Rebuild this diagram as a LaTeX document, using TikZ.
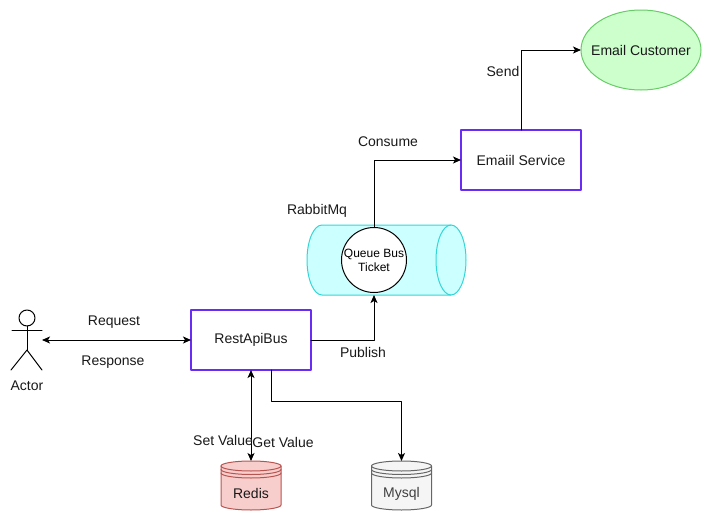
\documentclass[tikz,border=0pt]{standalone}
\usepackage{fontspec}
\setmainfont{Liberation Sans}
\usetikzlibrary{arrows.meta,calc,positioning,shapes.geometric}
\definecolor{boxline}{HTML}{6A2CF5}
\definecolor{queuefill}{HTML}{CCFFFF}
\definecolor{queueline}{HTML}{33D6D6}
\definecolor{customerfill}{HTML}{CCFFCC}
\definecolor{customerline}{HTML}{66CC66}
\definecolor{redisfill}{HTML}{F8CECC}
\definecolor{redisline}{HTML}{B85450}
\definecolor{mysqlfill}{HTML}{F5F5F5}
\definecolor{mysqlline}{HTML}{666666}
\tikzset{
	servicebox/.style={draw=boxline,line width=2pt,fill=white,minimum width=120pt,minimum height=60pt,inner sep=0pt,outer sep=0pt,text=black!90},
	storebox/.style={minimum width=60pt,minimum height=49pt,inner sep=0pt,outer sep=0pt},
	label/.style={text=black!90},
	link/.style={-{Stealth[length=8pt,width=7pt,inset=2pt]},line width=1pt},
	duplex/.style={{Stealth[length=8pt,width=7pt,inset=2pt]}-{Stealth[length=8pt,width=7pt,inset=2pt]},line width=1pt}
}
\begin{document}
\begin{tikzpicture}[line cap=round,line join=round,x=1pt,y=-1pt,every node/.style={font=\fontsize{14}{16}\selectfont}]
\useasboundingbox (0,0) rectangle (713,522);

\node[servicebox] (rest) at (251,340) {\raisebox{-1.5pt}{RestApiBus}};
\node[servicebox] (emailsvc) at (521,160) {Emaiil Service};
\node[ellipse,draw=customerline,fill=customerfill,line width=1pt,minimum width=120pt,minimum height=80pt,inner sep=0pt,outer sep=0pt] (customer) at (641,50) {};
\node[minimum width=159pt,minimum height=70pt,inner sep=0pt,outer sep=0pt] (queue) at (386.5,260) {};
\node[storebox] (redis) at (251,485.5) {};
\node[storebox] (mysql) at (401.5,485.5) {};

% queue body and its end
\draw[draw=queueline,fill=queuefill,line width=1pt] ($(queue)+(-64.5,-35)$) -- ($(queue)+(64.5,-35)$)
	arc[start angle=90,end angle=-90,x radius=15pt,y radius=35pt] -- ($(queue)+(-64.5,35)$)
	arc[start angle=270,end angle=90,x radius=15pt,y radius=35pt] -- cycle;
\draw[draw=queueline,line width=1pt] ($(queue)+(64.5,-35)$) arc[start angle=90,end angle=270,x radius=15pt,y radius=35pt];

% stores
\foreach \store/\edge/\body in {redis/redisline/redisfill,mysql/mysqlline/mysqlfill}{
	\draw[draw=\edge,fill=\body,line width=1pt] ($(\store)+(-30,-19.5)$)
		arc[start angle=180,end angle=0,x radius=30pt,y radius=5pt] -- ++(0,39)
		arc[start angle=360,end angle=180,x radius=30pt,y radius=5pt] -- cycle;
	\foreach \drop in {0,3.5,7}
		\draw[draw=\edge,line width=1pt] ($(\store)+(-30,-19.5+\drop)$) arc[start angle=180,end angle=360,x radius=30pt,y radius=5pt];
}

\node[label] (customertext) at (641,50) {Email Customer};
\node[label] (redistext) at (251,493) {Redis};
\node[text=black!75] (mysqltext) at (401.5,494) {Mysql};

% actor
\node[circle,draw,line width=1pt,minimum size=16pt,inner sep=0pt,outer sep=0pt] (head) at (27,318) {};
\coordinate (hip) at (27,350);
\coordinate (actorhand) at (42,340);
\coordinate (queuein) at (374,295);
\coordinate (restout) at (271,370);
\coordinate (ticketout) at (374,227);
\draw[line width=1pt] (head.south) -- (hip);
\draw[line width=1pt] (12,330) -- (42,330);
\draw[line width=1pt] (11,370) -- (hip) -- (42,370);

\draw[duplex] (actorhand) -- (rest.west);
\draw[duplex] (rest.south) -- (redis.north);
\draw[link] (restout) -- ++(0,31) -| (mysql.north);
\draw[link] (rest.east) -| (queuein);
\draw[link] (ticketout) |- (emailsvc.west);
\draw[link] (emailsvc.north) |- (customer.west);

\node[circle,draw,fill=white,line width=1pt,minimum size=65pt,inner sep=0pt,outer sep=0pt,align=center,font=\fontsize{12}{14}\selectfont] (ticket) at (374,260) {Queue Bus\\Ticket};

\node[label] (actortext) at (27,385.5) {Actor};
\node[label] (request) at (114,322) {Request};
\node[label] (response) at (113,362) {Response};
\node[label] (publish) at (363,352) {Publish};
\node[label] (consume) at (388,142) {Consume};
\node[label] (rabbit) at (317,211) {RabbitMq};
\node[label] (send) at (503,71) {Send};
\node[label] (setvalue) at (223,440) {Set Value};
\node[label] (getvalue) at (283,442) {Get Value};
\end{tikzpicture}
\end{document}
